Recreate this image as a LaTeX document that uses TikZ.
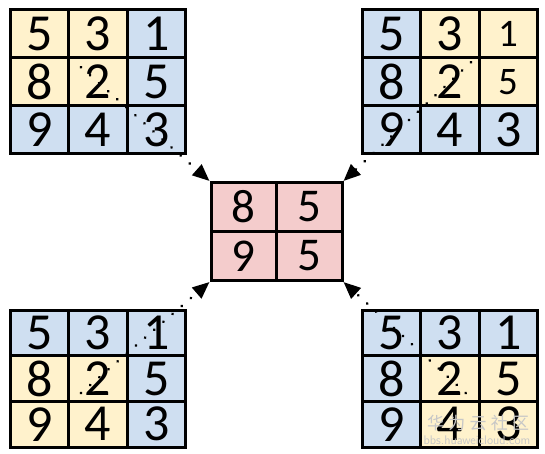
\documentclass[tikz,border=0pt]{standalone}
\usepackage{fontspec}
\setmainfont{Carlito}
\newfontfamily\cjk{Noto Sans CJK SC}
\usetikzlibrary{arrows.meta,calc}
\definecolor{cy}{HTML}{FFF2CC}
\definecolor{cb}{HTML}{CFDFF1}
\definecolor{cp}{HTML}{F4CCCC}
\tikzset{
  cellbox/.style={draw=black, line width=3pt, minimum width=58.5pt, inner sep=0pt, font=\fontsize{52}{52}\selectfont, anchor=center},
  ccell/.style={draw=black, line width=3pt, minimum width=65.5pt, minimum height=49pt, inner sep=0pt, font=\fontsize{47}{47}\selectfont, fill=cp, anchor=center},
  pointer/.style={line width=3pt, dash pattern=on 0.1pt off 12pt, line cap=round, -{Triangle[length=17pt,width=14pt]}},
  small/.style={font=\fontsize{39}{39}\selectfont},
  wmark/.style={text=black!22, inner sep=0pt}
}
\newcommand{\gridthree}[5]{%
  % #1 prefix, #2 x left, #3 y top, #4 row height, #5 cells
  \foreach \r/\c/\v/\col/\sz in {#5}{
    \node[cellbox, minimum height=#4pt, fill=\col, \sz] (#1\r\c) at ({#2+29.25+58.5*(\c-1)},{#3+#4/2+#4*(\r-1)}) {\v};
  }
}
\begin{document}
\begin{tikzpicture}[x=1pt,y=-1pt]
\useasboundingbox (0,0) rectangle (545,454);
% top-left
\gridthree{a}{10}{10}{48}{1/1/5/cy/{},1/2/3/cy/{},1/3/1/cb/{},2/1/8/cy/{},2/2/2/cy/{},2/3/5/cb/{},3/1/9/cb/{},3/2/4/cb/{},3/3/3/cb/{}}
% top-right
\gridthree{b}{362}{10}{48}{1/1/5/cb/{},1/2/3/cy/{},1/3/1/cy/small,2/1/8/cb/{},2/2/2/cy/{},2/3/5/cy/small,3/1/9/cb/{},3/2/4/cb/{},3/3/3/cb/{}}
% bottom-left
\gridthree{c}{10}{310}{45.7}{1/1/5/cb/{},1/2/3/cb/{},1/3/1/cb/{},2/1/8/cy/{},2/2/2/cy/{},2/3/5/cb/{},3/1/9/cy/{},3/2/4/cy/{},3/3/3/cb/{}}
% bottom-right
\gridthree{d}{362}{310}{45.7}{1/1/5/cb/{},1/2/3/cb/{},1/3/1/cb/{},2/1/8/cb/{},2/2/2/cy/{},2/3/5/cy/{},3/1/9/cb/{},3/2/4/cy/{},3/3/3/cy/{}}
% centre
\node[ccell] (m11) at (243.75,207) {8};
\node[ccell] (m12) at (309.25,207) {5};
\node[ccell] (m21) at (243.75,256) {9};
\node[ccell] (m22) at (309.25,256) {5};
% pointers
\coordinate (sa) at ($(a22)!-0.15!(m11.north west)$);
\coordinate (sb) at ($(b22)!-0.2!(m12.north east)$);
\coordinate (sc) at ($(c22)!-0.15!(m21.south west)$);
\coordinate (sd) at ($(d22)!-0.15!(m22.south east)$);
\draw[pointer] (sa) -- (m11.north west);
\draw[pointer] (sb) -- (m12.north east);
\draw[pointer] (sc) -- (m21.south west);
\draw[pointer] (sd) -- (m22.south east);
% watermark
\node[wmark, font=\cjk\fontsize{17}{17}\selectfont\addfontfeature{LetterSpace=25}] (wm1) at (478,423) {华为云社区};
\node[wmark, font=\sffamily\fontsize{12.5}{12.5}\selectfont] (wm2) at (477,440) {bbs.huaweicloud.com};
\end{tikzpicture}
\end{document}
